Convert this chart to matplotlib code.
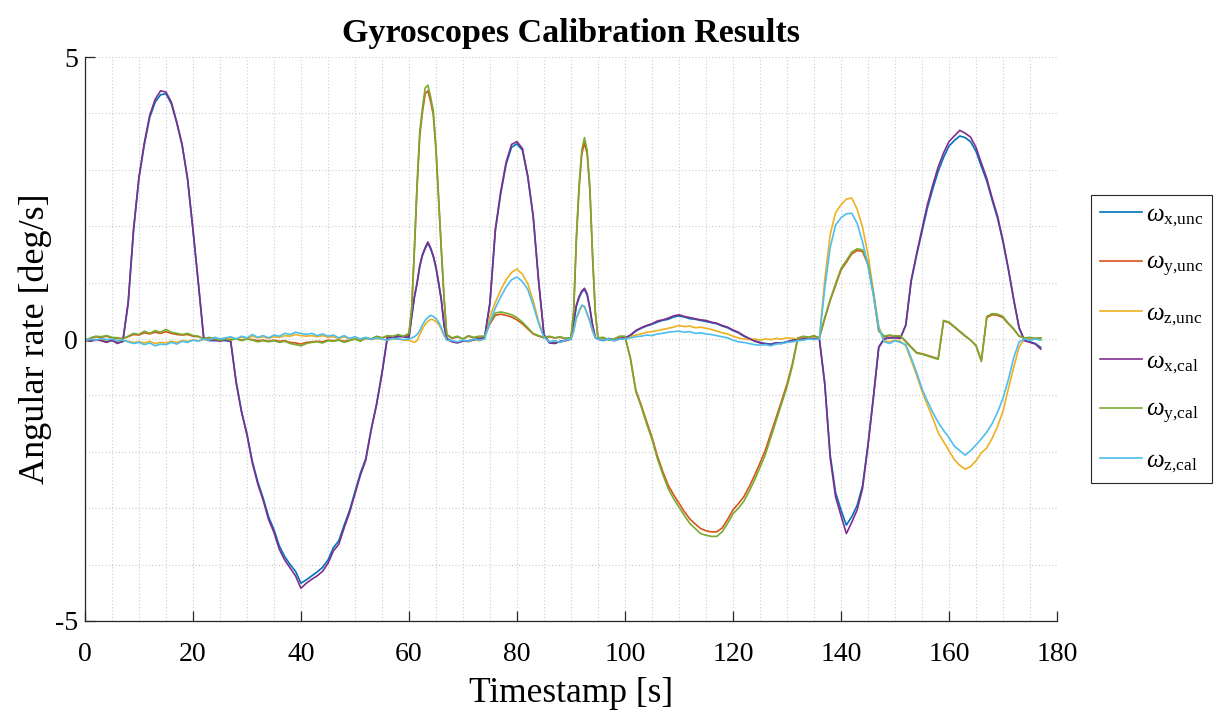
import numpy as np
import matplotlib
matplotlib.use('Agg')
import matplotlib.pyplot as plt
from matplotlib.ticker import MultipleLocator

plt.rcParams['font.family'] = ['Liberation Serif', 'DejaVu Serif']
plt.rcParams['mathtext.fontset'] = 'custom'
plt.rcParams['mathtext.rm'] = 'Liberation Serif'
plt.rcParams['mathtext.it'] = 'Liberation Serif:italic'
plt.rcParams['axes.unicode_minus'] = False

# sample times [s]: 1 s steps, 0.5 s around the two narrow spikes
t = np.concatenate([np.arange(0, 60), np.arange(60, 67.5, 0.5), np.arange(68, 90),
                    np.arange(90, 95.5, 0.5), np.arange(96, 178)])

# angular rates [deg/s]
wx_unc = [0.00, -0.03, -0.02, -0.01, -0.05, -0.03, -0.06, -0.05, 0.62, 1.92,
          2.85, 3.45, 3.93, 4.20, 4.33, 4.35, 4.17, 3.83, 3.43, 2.83,
          1.93, 0.98, 0.00, -0.02, -0.03, -0.02, -0.03, -0.04, -0.75, -1.28,
          -1.68, -2.17, -2.53, -2.82, -3.15, -3.38, -3.67, -3.86, -4.00, -4.12,
          -4.33, -4.27, -4.20, -4.13, -4.05, -3.92, -3.70, -3.58, -3.30, -3.04,
          -2.71, -2.38, -2.12, -1.60, -1.15, -0.60, 0.03, 0.02, 0.04, 0.05,
          0.02, 0.39, 0.73, 0.98, 1.28, 1.48, 1.60, 1.70, 1.60, 1.46, 1.26, 0.98, 0.68, 0.24, 0.01,
          -0.04, -0.06, -0.04, -0.03, -0.02, 0.01, 0.02, 0.63, 1.92, 2.58, 3.10,
          3.40, 3.46, 3.35, 2.87, 2.17, 1.03, 0.07, -0.06, -0.07, -0.05, -0.02,
          0.00, 0.29, 0.58, 0.73, 0.83, 0.88, 0.78, 0.54, 0.24, 0.03, 0.00,
          -0.03, 0.01, -0.02, 0.00, 0.02, 0.06, 0.14, 0.19, 0.23, 0.26,
          0.30, 0.33, 0.35, 0.39, 0.41, 0.39, 0.36, 0.35, 0.33, 0.31,
          0.29, 0.27, 0.23, 0.20, 0.15, 0.11, 0.05, 0.01, -0.03, -0.06,
          -0.08, -0.09, -0.07, -0.07, -0.05, -0.02, -0.01, 0.01, 0.00, 0.01,
          0.00, -0.78, -2.05, -2.72, -3.03, -3.30, -3.15, -2.95, -2.60, -1.87,
          -1.03, -0.14, 0.01, 0.02, 0.02, 0.02, 0.24, 1.02, 1.48, 1.90,
          2.32, 2.66, 2.97, 3.22, 3.42, 3.52, 3.60, 3.57, 3.50, 3.33,
          3.06, 2.80, 2.46, 2.14, 1.72, 1.23, 0.69, 0.19, -0.02, -0.05,
          -0.08, -0.15]

wy_unc = [-0.03, 0.01, 0.04, 0.03, 0.05, 0.02, 0.01, 0.01, 0.04, 0.08,
          0.07, 0.11, 0.09, 0.12, 0.10, 0.13, 0.10, 0.08, 0.07, 0.08,
          0.05, 0.04, 0.01, 0.02, 0.00, -0.01, 0.00, -0.01, 0.00, -0.02,
          0.00, -0.01, -0.03, -0.02, -0.04, -0.02, -0.04, -0.03, -0.06, -0.07,
          -0.09, -0.06, -0.05, -0.04, -0.05, -0.02, -0.03, -0.02, -0.04, -0.02,
          0.00, -0.03, 0.01, 0.00, 0.04, 0.02, 0.05, 0.04, 0.06, 0.04,
          0.08, 0.52, 1.55, 2.68, 3.60, 4.02, 4.35, 4.40, 4.22, 3.98, 3.35, 2.46, 1.56, 0.72, 0.07,
          0.01, 0.04, 0.00, 0.05, 0.02, 0.04, 0.04, 0.27, 0.42, 0.44, 0.42,
          0.39, 0.34, 0.27, 0.18, 0.09, 0.05, 0.02, 0.04, 0.02, 0.03, 0.01,
          0.02, 0.48, 1.75, 2.66, 3.27, 3.48, 3.28, 2.64, 1.46, 0.48, 0.02,
          0.02, -0.01, 0.00, 0.04, 0.04, -0.33, -0.90, -1.17, -1.46, -1.74,
          -2.07, -2.35, -2.59, -2.76, -2.91, -3.06, -3.19, -3.28, -3.36, -3.40,
          -3.42, -3.42, -3.35, -3.20, -3.03, -2.92, -2.80, -2.62, -2.42, -2.20,
          -1.97, -1.68, -1.39, -1.10, -0.80, -0.44, 0.02, 0.04, 0.03, 0.05,
          0.02, 0.36, 0.68, 0.95, 1.22, 1.36, 1.51, 1.57, 1.55, 1.32,
          0.80, 0.14, 0.04, 0.06, 0.05, 0.05, -0.04, -0.14, -0.24, -0.26,
          -0.29, -0.32, -0.35, 0.32, 0.29, 0.21, 0.13, 0.05, -0.02, -0.11,
          -0.38, 0.38, 0.43, 0.42, 0.38, 0.27, 0.17, 0.05, 0.02, 0.02,
          0.01, 0.02]

wz_unc = [-0.05, -0.02, -0.03, 0.00, -0.02, -0.01, -0.04, -0.03, -0.04, -0.06,
          -0.05, -0.07, -0.04, -0.08, -0.06, -0.07, -0.04, -0.06, -0.03, -0.04,
          -0.02, -0.03, -0.01, -0.02, 0.01, -0.01, 0.01, 0.02, 0.00, 0.03,
          0.01, 0.05, 0.02, 0.04, 0.01, 0.04, 0.03, 0.06, 0.05, 0.08,
          0.06, 0.05, 0.06, 0.04, 0.06, 0.03, 0.04, 0.01, 0.04, 0.00,
          0.02, 0.00, 0.02, -0.01, 0.01, 0.00, -0.02, 0.00, 0.00, -0.02,
          -0.02, -0.04, -0.06, -0.03, 0.08, 0.18, 0.26, 0.31, 0.35, 0.34, 0.31, 0.26, 0.17, 0.06, -0.02,
          -0.04, -0.06, -0.03, -0.05, -0.01, -0.03, 0.00, 0.40, 0.65, 0.87, 1.05,
          1.18, 1.24, 1.15, 0.98, 0.68, 0.32, 0.04, -0.05, -0.04, -0.06, -0.03,
          0.00, 0.13, 0.36, 0.48, 0.58, 0.57, 0.44, 0.31, 0.14, 0.02, 0.00,
          -0.02, 0.00, -0.02, 0.00, 0.01, 0.04, 0.07, 0.09, 0.12, 0.13,
          0.15, 0.17, 0.19, 0.21, 0.24, 0.22, 0.23, 0.20, 0.21, 0.19,
          0.17, 0.14, 0.11, 0.09, 0.05, 0.02, 0.00, -0.01, 0.00, -0.02,
          0.00, -0.01, 0.01, 0.00, 0.02, 0.01, 0.00, 0.01, 0.00, 0.01,
          0.00, 1.05, 1.85, 2.24, 2.38, 2.48, 2.50, 2.30, 1.98, 1.50,
          0.85, 0.22, -0.03, -0.05, -0.02, -0.04, -0.12, -0.38, -0.64, -0.93,
          -1.17, -1.40, -1.66, -1.82, -1.98, -2.14, -2.24, -2.31, -2.26, -2.16,
          -2.02, -1.93, -1.76, -1.55, -1.28, -0.88, -0.50, -0.14, 0.00, -0.01,
          0.00, -0.01]

wx_cal = [-0.02, -0.04, -0.01, -0.03, -0.06, -0.02, -0.08, -0.04, 0.65, 1.95,
          2.87, 3.48, 3.97, 4.25, 4.40, 4.38, 4.20, 3.85, 3.45, 2.85,
          1.95, 1.00, 0.02, -0.03, -0.02, -0.04, -0.01, -0.05, -0.78, -1.30,
          -1.70, -2.20, -2.57, -2.86, -3.20, -3.43, -3.73, -3.92, -4.06, -4.20,
          -4.42, -4.33, -4.26, -4.20, -4.12, -3.98, -3.76, -3.64, -3.35, -3.08,
          -2.75, -2.42, -2.15, -1.62, -1.17, -0.62, 0.02, 0.03, 0.05, 0.04,
          0.03, 0.40, 0.75, 1.00, 1.30, 1.50, 1.62, 1.72, 1.62, 1.48, 1.28, 1.00, 0.70, 0.25, 0.00,
          -0.05, -0.07, -0.03, -0.04, -0.01, 0.00, 0.02, 0.65, 1.95, 2.62, 3.14,
          3.45, 3.50, 3.38, 2.90, 2.19, 1.05, 0.08, -0.07, -0.08, -0.04, -0.03,
          0.00, 0.30, 0.60, 0.75, 0.85, 0.90, 0.80, 0.55, 0.25, 0.03, 0.00,
          -0.02, 0.00, -0.03, 0.01, 0.02, 0.07, 0.15, 0.20, 0.24, 0.27,
          0.32, 0.34, 0.37, 0.41, 0.43, 0.40, 0.38, 0.36, 0.34, 0.33,
          0.30, 0.28, 0.24, 0.21, 0.16, 0.12, 0.06, 0.01, -0.04, -0.07,
          -0.09, -0.10, -0.07, -0.08, -0.05, -0.03, -0.01, 0.00, 0.01, 0.00,
          0.00, -0.80, -2.10, -2.80, -3.13, -3.45, -3.25, -3.03, -2.65, -1.90,
          -1.05, -0.15, 0.00, 0.02, 0.03, 0.01, 0.25, 1.04, 1.51, 1.95,
          2.38, 2.73, 3.05, 3.30, 3.50, 3.60, 3.70, 3.65, 3.58, 3.40,
          3.12, 2.85, 2.50, 2.18, 1.75, 1.25, 0.70, 0.20, -0.03, -0.06,
          -0.09, -0.18]

wy_cal = [-0.05, 0.02, 0.05, 0.04, 0.06, 0.03, 0.02, 0.00, 0.05, 0.10,
          0.08, 0.14, 0.10, 0.15, 0.12, 0.17, 0.12, 0.10, 0.08, 0.10,
          0.06, 0.05, 0.00, 0.03, 0.00, -0.02, 0.00, -0.02, 0.01, -0.03,
          0.00, -0.02, -0.05, -0.03, -0.05, -0.03, -0.06, -0.04, -0.08, -0.10,
          -0.12, -0.08, -0.06, -0.05, -0.07, -0.03, -0.04, -0.02, -0.06, -0.03,
          0.00, -0.04, 0.02, 0.00, 0.05, 0.02, 0.06, 0.05, 0.08, 0.05,
          0.10, 0.55, 1.60, 2.75, 3.68, 4.10, 4.45, 4.50, 4.30, 4.05, 3.40, 2.50, 1.60, 0.75, 0.08,
          0.02, 0.05, 0.00, 0.06, 0.03, 0.05, 0.05, 0.30, 0.46, 0.48, 0.46,
          0.43, 0.38, 0.30, 0.20, 0.10, 0.06, 0.03, 0.05, 0.02, 0.04, 0.01,
          0.02, 0.50, 1.80, 2.73, 3.35, 3.57, 3.35, 2.70, 1.50, 0.50, 0.02,
          0.03, -0.02, 0.00, 0.05, 0.05, -0.35, -0.93, -1.20, -1.50, -1.78,
          -2.12, -2.40, -2.65, -2.83, -2.98, -3.13, -3.27, -3.36, -3.45, -3.48,
          -3.50, -3.50, -3.42, -3.27, -3.10, -3.00, -2.88, -2.70, -2.50, -2.28,
          -2.05, -1.75, -1.45, -1.15, -0.85, -0.48, 0.00, 0.05, 0.03, 0.06,
          0.02, 0.38, 0.70, 0.98, 1.25, 1.39, 1.54, 1.60, 1.58, 1.35,
          0.82, 0.15, 0.05, 0.07, 0.05, 0.06, -0.05, -0.15, -0.25, -0.27,
          -0.30, -0.33, -0.36, 0.33, 0.30, 0.22, 0.14, 0.06, -0.02, -0.12,
          -0.40, 0.40, 0.45, 0.44, 0.40, 0.28, 0.18, 0.05, 0.02, 0.03,
          0.01, 0.02]

wz_cal = [-0.03, 0.00, -0.02, 0.01, -0.01, 0.00, -0.03, -0.02, -0.05, -0.08,
          -0.06, -0.10, -0.07, -0.12, -0.09, -0.10, -0.06, -0.09, -0.04, -0.06,
          -0.02, -0.04, 0.00, -0.02, 0.03, 0.00, 0.02, 0.04, 0.00, 0.05,
          0.02, 0.08, 0.03, 0.06, 0.02, 0.07, 0.05, 0.10, 0.08, 0.12,
          0.10, 0.08, 0.10, 0.06, 0.09, 0.05, 0.07, 0.02, 0.06, 0.01,
          0.04, 0.00, 0.03, -0.01, 0.02, 0.00, -0.02, 0.01, 0.00, -0.01,
          0.00, 0.02, 0.04, 0.08, 0.15, 0.25, 0.33, 0.38, 0.42, 0.40, 0.36, 0.30, 0.20, 0.08, -0.02,
          -0.03, -0.05, -0.02, -0.04, 0.00, -0.02, 0.00, 0.30, 0.55, 0.75, 0.92,
          1.05, 1.10, 1.02, 0.88, 0.60, 0.28, 0.03, -0.05, -0.03, -0.06, -0.02,
          0.00, 0.15, 0.38, 0.50, 0.60, 0.58, 0.45, 0.32, 0.15, 0.03, 0.00,
          -0.02, 0.00, -0.03, 0.00, 0.00, 0.02, 0.04, 0.05, 0.07, 0.06,
          0.09, 0.10, 0.12, 0.13, 0.14, 0.12, 0.13, 0.10, 0.11, 0.09,
          0.08, 0.06, 0.04, 0.02, -0.02, -0.05, -0.06, -0.08, -0.10, -0.11,
          -0.10, -0.12, -0.09, -0.08, -0.06, -0.05, -0.03, -0.02, 0.00, -0.01,
          0.00, 0.90, 1.62, 2.02, 2.15, 2.22, 2.23, 2.05, 1.72, 1.30,
          0.78, 0.20, -0.05, -0.08, -0.03, -0.06, -0.10, -0.33, -0.59, -0.88,
          -1.10, -1.30, -1.48, -1.62, -1.75, -1.90, -1.98, -2.06, -1.98, -1.88,
          -1.77, -1.65, -1.50, -1.30, -1.05, -0.72, -0.33, -0.05, 0.00, -0.02,
          0.00, -0.02]

labels = [r'$\omega_{\text{x,unc}}$', r'$\omega_{\text{y,unc}}$', r'$\omega_{\text{z,unc}}$',
          r'$\omega_{\text{x,cal}}$', r'$\omega_{\text{y,cal}}$', r'$\omega_{\text{z,cal}}$']
colors = ['#0072BD', '#D95319', '#EDB120', '#7E2F8E', '#77AC30', '#4DBEEE']
series = [wx_unc, wy_unc, wz_unc, wx_cal, wy_cal, wz_cal]

fig = plt.figure(figsize=(12.17, 7.11), dpi=100)
ax = fig.add_axes([0.0698, 0.1266, 0.7987, 0.7932])

for vals, c, lab in zip(series, colors, labels):
    ax.plot(t, vals, color=c, lw=1.2, label=lab)

ax.set_xlim(0, 180)
ax.set_ylim(-5, 5)
ax.xaxis.set_major_locator(MultipleLocator(20))
ax.xaxis.set_minor_locator(MultipleLocator(5))
ax.yaxis.set_major_locator(MultipleLocator(5))
ax.yaxis.set_minor_locator(MultipleLocator(1))
ax.grid(which='both', color='#cccccc', linestyle=(0, (1, 2)), linewidth=0.8)
ax.set_axisbelow(True)

for s in ['top', 'right']:
    ax.spines[s].set_visible(False)
for s in ['left', 'bottom']:
    ax.spines[s].set_color('#262626')
    ax.spines[s].set_linewidth(0.9)
ax.tick_params(which='major', direction='in', length=7, width=0.9, labelsize=20,
               colors='#262626', labelcolor='black')
ax.tick_params(axis='x', which='major', pad=15)
ax.tick_params(axis='y', which='major', pad=5)
ax.tick_params(which='minor', length=0)

ax.set_xlabel('Timestamp [s]', fontsize=25.5, labelpad=7)
ax.set_ylabel('Angular rate [deg/s]', fontsize=26, labelpad=2)
ax.set_title('Gyroscopes Calibration Results', fontsize=24.5, fontweight='bold', pad=11)

leg = ax.legend(loc='center left', bbox_to_anchor=(1.035, 0.5), borderaxespad=0,
                fontsize=18, frameon=True, fancybox=False, framealpha=1,
                edgecolor='#262626', handlelength=1.7, labelspacing=0.92,
                handletextpad=0.15, borderpad=0.35)
leg.get_frame().set_linewidth(0.8)

fig.savefig('out.png', dpi=100)
